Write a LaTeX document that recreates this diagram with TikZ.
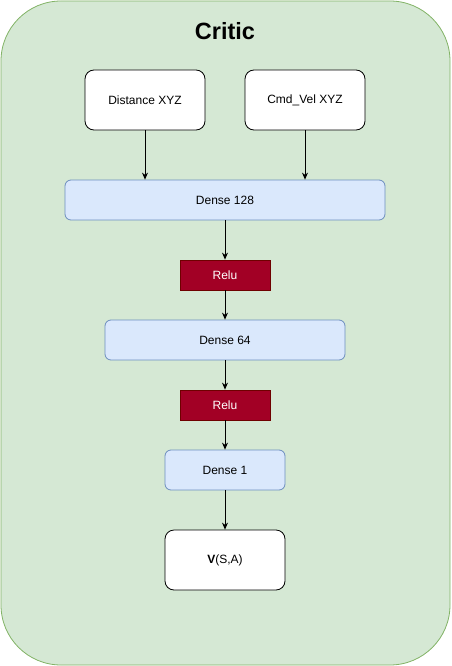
\documentclass[tikz,border=0pt]{standalone}
\usepackage{fontspec}
\setmainfont{Liberation Sans}
\usetikzlibrary{arrows.meta}
\definecolor{cfill}{HTML}{D5E8D4}
\definecolor{cline}{HTML}{82B366}
\definecolor{bfill}{HTML}{DAE8FC}
\definecolor{bline}{HTML}{6C8EBF}
\definecolor{rfill}{HTML}{A20025}
\definecolor{rline}{HTML}{6F0000}
\tikzset{
  box/.style={draw=black, fill=white, rounded corners=9pt, line width=0.8pt, inner sep=0pt, font=\fontsize{12}{14}\selectfont, text=black},
  dense/.style={draw=bline, fill=bfill, rounded corners=6pt, line width=0.8pt, inner sep=0pt, minimum height=40pt, font=\fontsize{12}{14}\selectfont},
  relu/.style={draw=rline, fill=rfill, line width=0.8pt, inner sep=0pt, minimum width=90pt, minimum height=30pt, text=white, font=\fontsize{12}{14}\selectfont},
  arr/.style={draw=black, line width=0.8pt, -{Stealth[length=7pt,width=6pt]}}
}
\begin{document}
\begin{tikzpicture}[x=1pt,y=-1pt]
\useasboundingbox (0,0) rectangle (451,666);
\node[draw=cline, fill=cfill, rounded corners=60pt, line width=0.8pt, minimum width=449pt, minimum height=664pt, inner sep=0pt] (container) at (225.5,333) {};
\node[font=\bfseries\fontsize{23.5}{26}\selectfont] (title) at (225,31) {Critic};
\node[box, minimum width=120pt, minimum height=60pt] (dist) at (145,100) {Distance XYZ};
\node[box, minimum width=120pt, minimum height=60pt] (cmd) at (305,100) {Cmd\_Vel XYZ};
\node[dense, minimum width=320pt] (d128) at (225,200) {Dense 128};
\node[relu] (r1) at (225,275) {Relu};
\node[dense, minimum width=240pt] (d64) at (225,340) {Dense 64};
\node[relu] (r2) at (225,405) {Relu};
\node[dense, minimum width=120pt] (d1) at (225,470) {Dense 1};
\node[box, minimum width=120pt, minimum height=60pt] (v) at (225,560) {\textbf{V}(S,A)};
\draw[arr] (dist.south) -- (dist.south |- d128.north);
\draw[arr] (cmd.south) -- (cmd.south |- d128.north);
\draw[arr] (d128) -- (r1);
\draw[arr] (r1) -- (d64);
\draw[arr] (d64) -- (r2);
\draw[arr] (r2) -- (d1);
\draw[arr] (d1) -- (v);
\end{tikzpicture}
\end{document}
